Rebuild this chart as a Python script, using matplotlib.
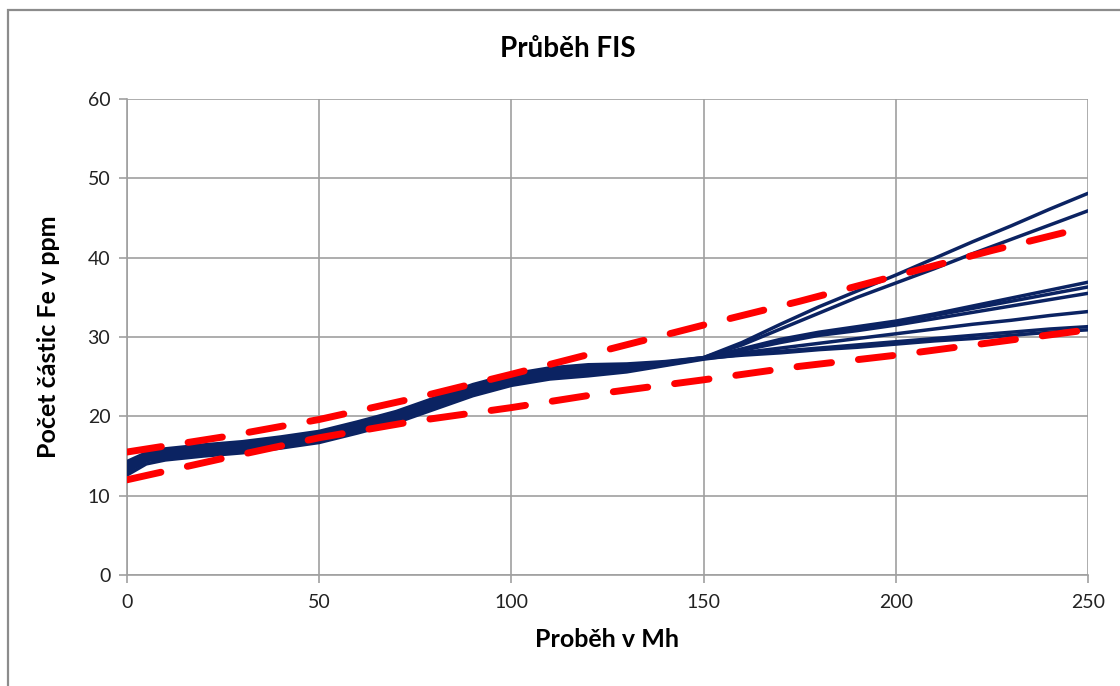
"""Průběh FIS: Fe particle counts over running hours with band limits."""

import matplotlib.pyplot as plt
from matplotlib.patches import Rectangle

plt.rcParams["font.family"] = ["Lato", "DejaVu Sans"]

# running hours for the measured series
hours = [0, 5, 10, 20, 30, 40, 50, 60, 70, 80, 90, 100, 110, 120, 130, 140,
         150, 160, 170, 180, 190, 200, 210, 220, 230, 240, 250]

# Fe particle counts (ppm) for each monitored unit
fe_a = [14.3, 15.4, 15.9, 16.4, 16.8, 17.4, 18.1, 19.3, 20.6, 22.3, 24.0, 25.3, 26.1, 26.5,
        26.6, 26.9, 27.4, 29.3, 31.6, 33.8, 35.8, 37.8, 39.9, 42.0, 44.0, 46.1, 48.1]
fe_b = [13.9, 15.2, 15.6, 16.1, 16.5, 17.1, 17.8, 19.0, 20.3, 22.0, 23.7, 25.0, 25.8, 26.2,
        26.4, 26.8, 27.4, 29.0, 31.0, 33.0, 35.0, 36.8, 38.6, 40.5, 42.3, 44.1, 45.9]
fe_c = [13.6, 15.0, 15.4, 15.9, 16.3, 16.9, 17.6, 18.8, 20.1, 21.8, 23.5, 24.8, 25.6, 26.0,
        26.2, 26.7, 27.3, 28.5, 29.7, 30.6, 31.3, 32.0, 32.9, 33.9, 34.9, 35.9, 36.9]
fe_d = [13.3, 14.7, 15.1, 15.6, 16.0, 16.6, 17.3, 18.5, 19.8, 21.5, 23.2, 24.5, 25.3, 25.7,
        26.0, 26.6, 27.3, 28.4, 29.5, 30.4, 31.1, 31.8, 32.7, 33.6, 34.5, 35.4, 36.3]
fe_e = [13.0, 14.4, 14.8, 15.3, 15.7, 16.3, 17.0, 18.2, 19.5, 21.2, 22.9, 24.2, 25.0, 25.4,
        25.8, 26.5, 27.3, 28.3, 29.3, 30.2, 30.8, 31.5, 32.3, 33.1, 33.9, 34.7, 35.5]
fe_f = [14.1, 15.1, 15.5, 16.0, 16.4, 17.0, 17.7, 18.9, 20.2, 21.9, 23.6, 24.9, 25.7, 26.1,
        26.3, 26.8, 27.3, 28.0, 28.6, 29.2, 29.8, 30.4, 31.0, 31.6, 32.1, 32.7, 33.2]
fe_g = [12.6, 14.0, 14.5, 15.0, 15.4, 16.0, 16.7, 17.9, 19.2, 20.9, 22.6, 23.9, 24.7, 25.1,
        25.6, 26.4, 27.2, 27.8, 28.2, 28.6, 29.0, 29.4, 29.8, 30.2, 30.6, 31.0, 31.3]
fe_h = [13.5, 14.6, 15.0, 15.5, 15.9, 16.5, 17.2, 18.4, 19.7, 21.4, 23.1, 24.4, 25.2, 25.6,
        25.9, 26.6, 27.3, 27.7, 28.0, 28.4, 28.7, 29.1, 29.5, 29.8, 30.2, 30.6, 30.9]

# band limits
limit_hours = [0, 25, 50, 75, 100, 125, 150, 175, 200, 225, 250]
upper_limit = [15.5, 17.4, 19.6, 22.3, 25.3, 28.4, 31.5, 34.5, 37.7, 40.9, 43.9]
lower_limit = [12.0, 14.7, 17.3, 19.4, 21.1, 23.0, 24.6, 26.3, 27.7, 29.3, 30.9]

NAVY = "#0b2362"
GRID = "#a0a0a0"

fig = plt.figure(figsize=(11.2, 6.86), dpi=100)
ax = fig.add_axes([0.1134, 0.1618, 0.858, 0.694])

# chart frame
fig.patches.append(Rectangle((8 / 1120, -0.1), 1.2, 1 - 10 / 686 + 0.1,
                             transform=fig.transFigure, fill=False,
                             edgecolor="#8c8c8c", linewidth=1.6))

for series in (fe_h, fe_g, fe_f, fe_e, fe_d, fe_c, fe_b, fe_a):
    ax.plot(hours, series, color=NAVY, linewidth=2.5, solid_capstyle="round",
            solid_joinstyle="round", zorder=3)

for limit in (upper_limit, lower_limit):
    ax.plot(limit_hours, limit, color="#ff0000", linewidth=5, dashes=(5, 3.9),
            dash_capstyle="round", zorder=4)

ax.set_xlim(0, 250)
ax.set_ylim(0, 60)
ax.set_xticks(range(0, 251, 50))
ax.set_yticks(range(0, 61, 10))
ax.grid(True, color=GRID, linewidth=1.2, zorder=0)
for side in ("top", "right"):
    ax.spines[side].set_visible(False)
for side in ("left", "bottom"):
    ax.spines[side].set_color(GRID)
    ax.spines[side].set_linewidth(1.2)
ax.tick_params(colors=GRID, labelcolor="#222222", labelsize=14, length=6, width=1.2)
ax.tick_params(axis="y", pad=6)
ax.tick_params(axis="x", pad=8)

ax.set_title("Průběh FIS", fontsize=20, fontweight="bold", pad=30, x=0.459)
ax.set_xlabel("Proběh v Mh", fontsize=18, fontweight="bold", labelpad=12)
ax.set_ylabel("Počet částic Fe v ppm", fontsize=18, fontweight="bold", labelpad=20)

fig.savefig("out.png", dpi=100)
